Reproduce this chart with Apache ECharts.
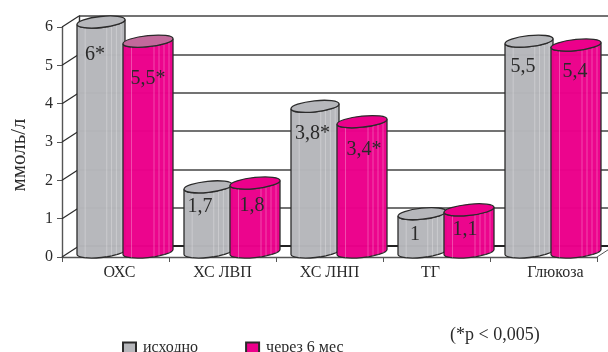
<!DOCTYPE html>
<html>
<head>
<meta charset="utf-8">
<style>html,body{margin:0;padding:0;background:#fff}#c{width:608px;height:352px}</style>
<script src="https://cdn.jsdelivr.net/npm/echarts@6/dist/echarts.min.js"></script>
</head>
<body>
<div id="c"></div>
<script>
// Lipid and glucose levels, mmol/l
const categories = ['ОХС', 'ХС ЛВП', 'ХС ЛНП', 'ТГ', 'Глюкоза'];
const baseline = [6, 1.7, 3.8, 1, 5.5];
const after6m = [5.5, 1.8, 3.4, 1.1, 5.4];
const baselineMarked = [true, false, true, false, false];
const after6mMarked = [true, false, true, false, false];
const yTicks = [0, 1, 2, 3, 4, 5, 6];

// Placement of the printed values relative to each cylinder, px
const baselineLabelDrop = [28, 15, 22, 16, 21];
const after6mLabelDrop = [33, 18, 23, 15, 22];
const baselineLabelShift = [-6, -8, -2.5, -7, -6];
const after6mLabelShift = [0, -3, 2, -4, -1];

const GREY = '#b6b7bb';
const PINK = '#ec008b';
const INK = '#2b2b2b';
const SERIF = '"Liberation Serif", serif';
const pinkCaps = ['#c2699b', PINK, PINK, PINK, PINK];

const DEPTH_X = 17, DEPTH_Y = 11;
const AXIS_W = 535, AXIS_H = 230;
const stripes = [0.17, 0.62, 0.72, 0.82, 0.92];

function cylinder(opts) {
  return function (params, api) {
    const i = api.value(0), v = api.value(1);
    const top = api.coord([i, v]), floor = api.coord([i, 0]);
    const band = api.size([1, 0])[0];
    const x0 = top[0] - band / 2 + opts.offset, x1 = x0 + opts.width;
    const rx = opts.width / 2, ry = 5.5, tilt = 2.5, rot = -6;
    const cy = top[1] - 5, by = floor[1] - 5;
    const arc = (x, y, sweep) => `A ${rx} ${ry} ${rot} 0 ${sweep} ${x} ${y}`;
    const body = `M ${x0} ${cy + tilt} L ${x0} ${by + tilt} ${arc(x1, by - tilt, 0)} L ${x1} ${cy - tilt} ${arc(x0, cy + tilt, 1)} Z`;
    const cap = `M ${x0} ${cy + tilt} ${arc(x1, cy - tilt, 1)} ${arc(x0, cy + tilt, 1)} Z`;
    const children = [{
      type: 'path', shape: { pathData: body },
      style: { fill: opts.fill, stroke: INK, lineWidth: 1.3, fillOpacity: 0.98 }
    }];
    stripes.forEach(f => {
      const bulge = ry * Math.sqrt(1 - Math.pow(2 * f - 1, 2));
      const slope = tilt * (1 - 2 * f);
      const x = x0 + f * opts.width;
      children.push({
        type: 'line',
        shape: { x1: x, y1: cy + slope + bulge, x2: x, y2: by + slope + bulge },
        style: { stroke: 'rgba(255,255,255,0.28)', lineWidth: 1 }
      });
    });
    children.push({
      type: 'path', shape: { pathData: cap },
      style: { fill: opts.caps ? opts.caps[i] : opts.fill, stroke: INK, lineWidth: 1.3 }
    });
    children.push({
      type: 'text',
      style: {
        text: String(v).replace('.', ',') + (opts.marked[i] ? '*' : ''),
        x: (x0 + x1) / 2 + opts.shift[i], y: top[1] + opts.drop[i],
        align: 'center', verticalAlign: 'middle',
        font: '20px ' + SERIF, fill: '#2a2a2a'
      }
    });
    return { type: 'group', children };
  };
}

// Diagonal edges joining the front axes to the back wall
function depthEdges(params, api) {
  const p = api.coord([0, api.value(0)]);
  const left = params.coordSys.x;
  const edges = [{
    type: 'line',
    shape: { x1: left, y1: p[1], x2: left + DEPTH_X, y2: p[1] - DEPTH_Y },
    style: { stroke: INK, lineWidth: 1.2 }
  }];
  if (api.value(0) === 0) {
    const right = left + params.coordSys.width;
    edges.push({
      type: 'line',
      shape: { x1: right, y1: p[1], x2: right + DEPTH_X, y2: p[1] - DEPTH_Y },
      style: { stroke: '#555', lineWidth: 1 }
    });
  }
  return { type: 'group', children: edges };
}

const labelPadding = [[0, 0, 0, 8], 0, 0, [0, 12, 0, 0], [0, 0, 0, 24]];

const chart = echarts.init(document.getElementById('c'), null, { renderer: 'canvas' });
chart.setOption({
  animation: false,
  backgroundColor: '#fff',
  textStyle: { fontFamily: SERIF },
  title: {
    text: '(*p < 0,005)', left: 450, top: 326, padding: 0,
    textStyle: { fontFamily: SERIF, fontWeight: 'normal', fontSize: 18, color: '#2a2a2a' }
  },
  legend: {
    data: ['исходно', 'через 6 мес'], left: 122, top: 340, padding: 0,
    icon: 'rect', itemWidth: 13, itemHeight: 11, itemGap: 47,
    textStyle: { fontFamily: SERIF, fontSize: 16, color: '#2a2a2a', padding: [0, 0, 0, 2] }
  },
  grid: [
    { left: 62, top: 27, width: AXIS_W, height: AXIS_H },
    { left: 62 + DEPTH_X, top: 27 - DEPTH_Y, width: AXIS_W, height: AXIS_H }
  ],
  xAxis: [
    {
      type: 'category', gridIndex: 0,
      data: categories.map((c, i) => ({ value: c, textStyle: { padding: labelPadding[i] } })),
      axisLine: { lineStyle: { color: '#555', width: 1.4 } },
      axisTick: { show: true, length: 5, lineStyle: { color: '#555' } },
      axisLabel: { fontFamily: SERIF, fontSize: 16, color: '#2a2a2a', margin: 8, interval: 0 }
    },
    {
      type: 'category', gridIndex: 1, data: categories,
      axisLine: { lineStyle: { color: '#222', width: 2 } },
      axisTick: { show: false }, axisLabel: { show: false }
    }
  ],
  yAxis: [
    {
      type: 'value', gridIndex: 0, min: 0, max: 6, interval: 1,
      name: 'ммоль/л', nameLocation: 'middle', nameGap: 32,
      nameTextStyle: { fontFamily: SERIF, fontSize: 21, color: '#2a2a2a', padding: [0, 26, 0, 0] },
      axisLine: { show: true, lineStyle: { color: '#555', width: 1.4 } },
      axisTick: { show: true, length: 5, lineStyle: { color: '#555' } },
      axisLabel: { fontFamily: SERIF, fontSize: 16, color: '#2a2a2a', margin: 9 },
      splitLine: { show: false }
    },
    {
      type: 'value', gridIndex: 1, min: 0, max: 6, interval: 1,
      axisLine: { show: true, lineStyle: { color: '#333', width: 1.4 } },
      axisTick: { show: false }, axisLabel: { show: false },
      splitLine: { show: true, lineStyle: { color: '#444', width: 1.5 } }
    }
  ],
  series: [
    {
      type: 'custom', silent: true, xAxisIndex: 0, yAxisIndex: 0, clip: false, z: 1,
      data: yTicks.map(t => [t]), encode: { y: 0 },
      renderItem: depthEdges
    },
    {
      name: 'исходно', type: 'custom', xAxisIndex: 0, yAxisIndex: 0, clip: false, z: 3,
      itemStyle: { color: GREY, borderColor: INK, borderWidth: 1.2 },
      data: baseline.map((v, i) => [i, v]), encode: { x: 0, y: 1 },
      renderItem: cylinder({ offset: 15, width: 48, fill: GREY, marked: baselineMarked, drop: baselineLabelDrop, shift: baselineLabelShift })
    },
    {
      name: 'через 6 мес', type: 'custom', xAxisIndex: 0, yAxisIndex: 0, clip: false, z: 4,
      itemStyle: { color: PINK, borderColor: INK, borderWidth: 1.2 },
      data: after6m.map((v, i) => [i, v]), encode: { x: 0, y: 1 },
      renderItem: cylinder({ offset: 61, width: 50, fill: PINK, caps: pinkCaps, marked: after6mMarked, drop: after6mLabelDrop, shift: after6mLabelShift })
    }
  ]
});
</script>
</body>
</html>
